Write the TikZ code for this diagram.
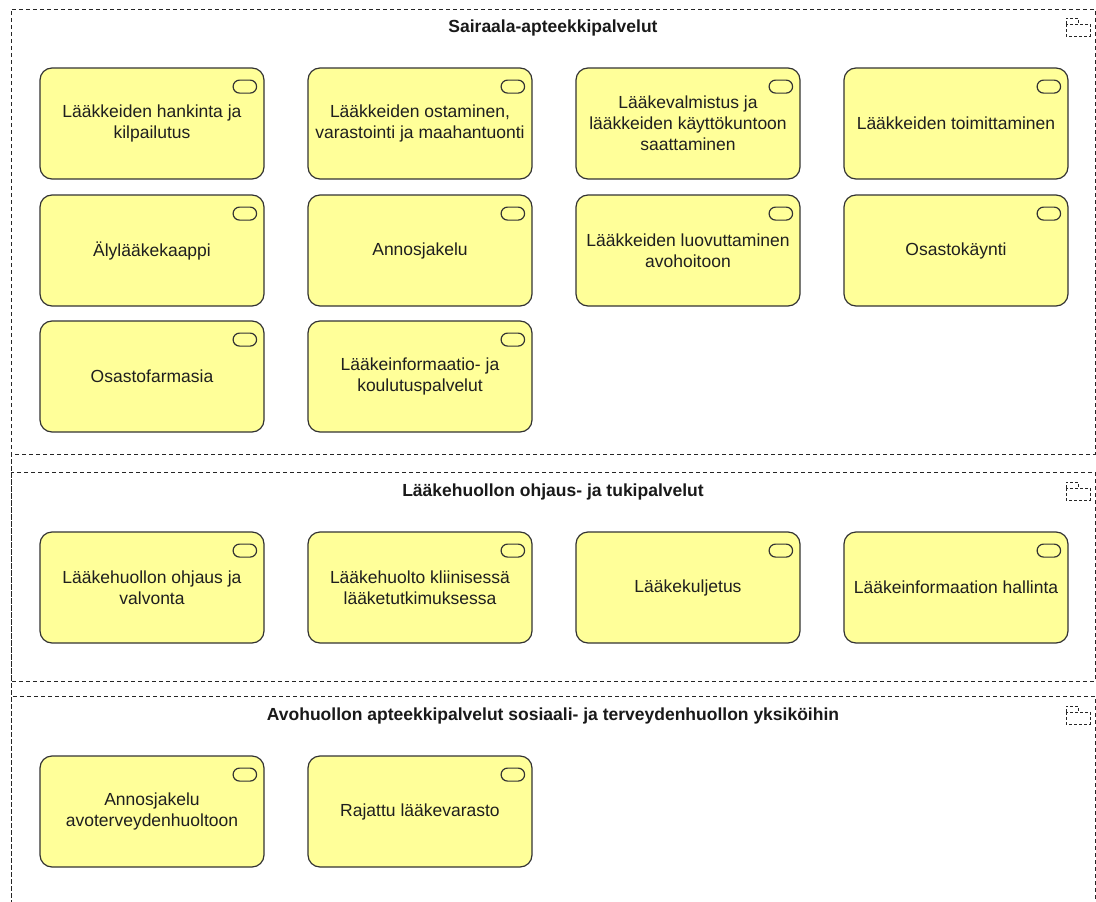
\documentclass[tikz,border=0pt]{standalone}
\usepackage{fontspec}
\setmainfont{Liberation Sans}
\begin{document}
\begin{tikzpicture}[x=1pt,y=-1pt,
  grp/.style={draw=black!85, line width=0.9pt, dash pattern=on 4pt off 3pt},
  grptitle/.style={font=\fontsize{17.5}{21}\selectfont\bfseries, text=black!90},
  svc/.style={draw=black!80, line width=1.2pt, fill=yellowfill, rounded corners=12pt,
    minimum width=224pt, minimum height=111pt, inner sep=0pt, align=center,
    font=\fontsize{17.5}{21}\selectfont, text=black!88},
  svcicon/.style={draw=black!80, line width=1.2pt, rounded corners=6.5pt},
  grpicon/.style={draw=black!85, line width=0.9pt, dash pattern=on 3pt off 2pt}]
\definecolor{yellowfill}{HTML}{FFFF99}
\useasboundingbox (0,0) rectangle (1096,902);
% groups
\draw[grp] (11,904) -- (11,9) -- (1095,9) -- (1095,454) -- (11,454) -- cycle;
\draw[grp] (11,472) rectangle (1095,681);
\draw[grp] (11,904) -- (11,696) -- (1095,696) -- (1095,904);
\node[grptitle] (t1) at (553,28) {Sairaala-apteekkipalvelut};
\node[grptitle] (t2) at (553,492) {Lääkehuollon ohjaus- ja tukipalvelut};
\node[grptitle] (t3) at (553,716) {Avohuollon apteekkipalvelut sosiaali- ja terveydenhuollon yksiköihin};
% group icons
\foreach \gy [count=\i] in {18,482,706} {
  \draw[grpicon] (1066,\gy+6) rectangle (1090,\gy+18);
  \draw[grpicon] (1066,\gy+6) -- (1066,\gy) -- (1078,\gy) -- (1078,\gy+6);
}
% services
\newcommand{\svcnode}[4]{%
  \node[svc] (#1) at (#2,#3) {#4};
  \draw[svcicon] ([xshift=-31.5pt,yshift=-12.7pt]#1.north east) rectangle ([xshift=-8pt,yshift=-25.7pt]#1.north east);
}
\svcnode{a1}{152}{123.5}{Lääkkeiden hankinta ja\\kilpailutus}
\svcnode{a2}{420}{123.5}{Lääkkeiden ostaminen,\\varastointi ja maahantuonti}
\svcnode{a3}{688}{123.5}{Lääkevalmistus ja\\lääkkeiden käyttökuntoon\\saattaminen}
\svcnode{a4}{956}{123.5}{Lääkkeiden toimittaminen}
\svcnode{b1}{152}{250.5}{Älylääkekaappi}
\svcnode{b2}{420}{250.5}{Annosjakelu}
\svcnode{b3}{688}{250.5}{Lääkkeiden luovuttaminen\\avohoitoon}
\svcnode{b4}{956}{250.5}{Osastokäynti}
\svcnode{c1}{152}{376.5}{Osastofarmasia}
\svcnode{c2}{420}{376.5}{Lääkeinformaatio- ja\\koulutuspalvelut}
\svcnode{d1}{152}{587.5}{Lääkehuollon ohjaus ja\\valvonta}
\svcnode{d2}{420}{587.5}{Lääkehuolto kliinisessä\\lääketutkimuksessa}
\svcnode{d3}{688}{587.5}{Lääkekuljetus}
\svcnode{d4}{956}{587.5}{Lääkeinformaation hallinta}
\svcnode{e1}{152}{811.5}{Annosjakelu\\avoterveydenhuoltoon}
\svcnode{e2}{420}{811.5}{Rajattu lääkevarasto}
\end{tikzpicture}
\end{document}
